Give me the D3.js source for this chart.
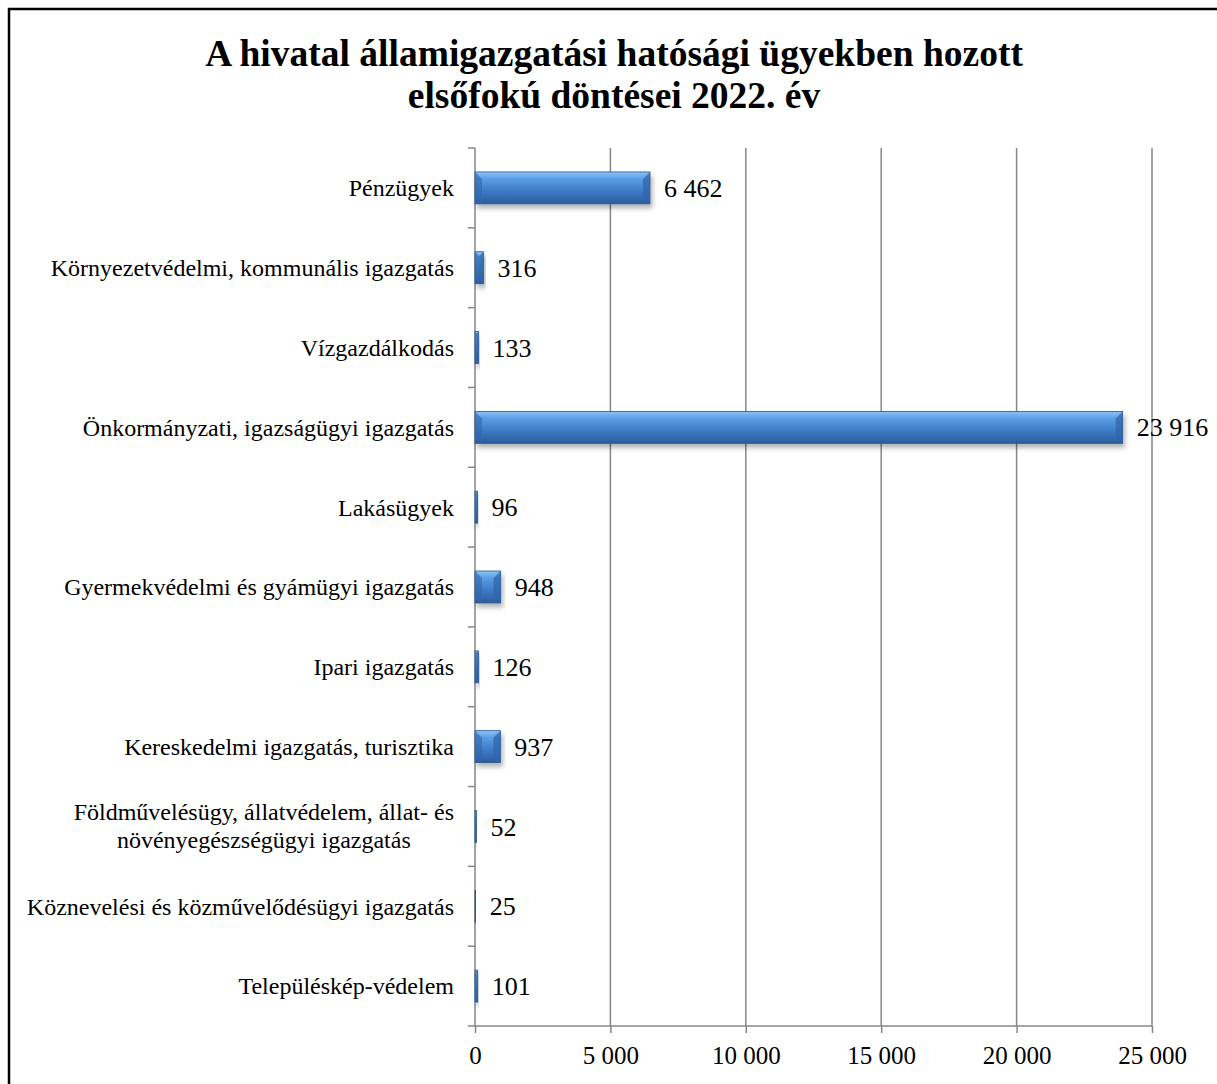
<!DOCTYPE html>
<html>
<head>
<meta charset="utf-8">
<script src="https://cdn.jsdelivr.net/npm/d3@7"></script>
<style>
  body { margin: 0; background: #fff; }
  text { font-family: "Liberation Serif", "Times New Roman", serif; fill: #000; }
</style>
</head>
<body>
<div id="chart"></div>
<script>
// data
const categories = [
  "Pénzügyek",
  "Környezetvédelmi, kommunális igazgatás",
  "Vízgazdálkodás",
  "Önkormányzati, igazságügyi igazgatás",
  "Lakásügyek",
  "Gyermekvédelmi és gyámügyi igazgatás",
  "Ipari igazgatás",
  "Kereskedelmi igazgatás, turisztika",
  "Földművelésügy, állatvédelem, állat- és|növényegészségügyi igazgatás",
  "Köznevelési és közművelődésügyi igazgatás",
  "Településkép-védelem"
];
const values = [6462, 316, 133, 23916, 96, 948, 126, 937, 52, 25, 101];
const valueLabels = ["6 462", "316", "133", "23 916", "96", "948", "126", "937", "52", "25", "101"];
const xTicks = [0, 5000, 10000, 15000, 20000, 25000];
const xTickLabels = ["0", "5 000", "10 000", "15 000", "20 000", "25 000"];
const titleLines = ["A hivatal államigazgatási hatósági ügyekben hozott", "elsőfokú döntései 2022. év"];

const W = 1217, H = 1084;
const margin = {top: 148, right: 65, bottom: 58, left: 475};
const width = W - margin.left - margin.right,
      height = H - margin.top - margin.bottom;

const svgRoot = d3.select("#chart")
  .append("svg")
    .attr("width", W)
    .attr("height", H);

// outer frame
svgRoot.append("rect")
  .attr("x", 9).attr("y", 9)
  .attr("width", W + 20).attr("height", H + 20)
  .attr("fill", "none")
  .attr("stroke", "#000")
  .attr("stroke-width", 2.5);

// title
svgRoot.selectAll(".title")
  .data(titleLines)
  .enter()
  .append("text")
    .attr("class", "title")
    .attr("x", 614)
    .attr("y", (d, i) => 66 + i * 42)
    .attr("text-anchor", "middle")
    .style("font-size", "37.5px")
    .style("font-weight", "bold")
    .text(d => d);

const defs = svgRoot.append("defs");
const grad = defs.append("linearGradient")
  .attr("id", "barGrad").attr("x1", 0).attr("y1", 0).attr("x2", 0).attr("y2", 1);
grad.append("stop").attr("offset", "0%").attr("stop-color", "#8cc4f5");
grad.append("stop").attr("offset", "22%").attr("stop-color", "#5a9de3");
grad.append("stop").attr("offset", "60%").attr("stop-color", "#3e7bc6");
grad.append("stop").attr("offset", "100%").attr("stop-color", "#2b5c9c");

const shadow = defs.append("filter").attr("id", "shadow")
  .attr("x", "-10%").attr("y", "-20%").attr("width", "130%").attr("height", "160%");
shadow.append("feDropShadow")
  .attr("dx", 2).attr("dy", 4).attr("stdDeviation", 2.5)
  .attr("flood-color", "#000").attr("flood-opacity", 0.3);

const svg = svgRoot.append("g")
  .attr("transform", `translate(${margin.left},${margin.top})`);

const x = d3.scaleLinear()
  .domain([0, 25000])
  .range([0, 677]);

const y = d3.scaleBand()
  .domain(d3.range(categories.length))
  .range([0, height])
  .paddingInner(0.6)
  .paddingOuter(0.3);

// vertical gridlines
svg.selectAll(".grid")
  .data(xTicks.slice(1))
  .enter()
  .append("line")
    .attr("x1", d => x(d)).attr("x2", d => x(d))
    .attr("y1", 0).attr("y2", height)
    .attr("stroke", "#878787")
    .attr("stroke-width", 1.5);

// x axis
const xAxis = d3.axisBottom(x)
  .tickValues(xTicks)
  .tickFormat((d, i) => xTickLabels[i])
  .tickSize(7)
  .tickPadding(13);
const gx = svg.append("g")
  .attr("transform", `translate(0, ${height})`)
  .call(xAxis);
gx.select(".domain").remove();
gx.append("line")
  .attr("x1", -7).attr("x2", x(25000))
  .attr("stroke", "#878787").attr("stroke-width", 1.5);
gx.selectAll(".tick line").attr("stroke", "#878787").attr("stroke-width", 1.5);
gx.selectAll(".tick text")
  .style("font-size", "25px")
  .style("font-family", "'Liberation Serif', serif")
  .attr("fill", "#000");

// y axis line and boundary ticks
svg.append("line")
  .attr("x1", 0).attr("x2", 0).attr("y1", 0).attr("y2", height)
  .attr("stroke", "#878787").attr("stroke-width", 1.5);
const step = height / categories.length;
svg.selectAll(".ytick")
  .data(d3.range(categories.length))
  .enter()
  .append("line")
    .attr("x1", -7).attr("x2", 0)
    .attr("y1", d => d * step).attr("y2", d => d * step)
    .attr("stroke", "#878787").attr("stroke-width", 1.5);

// category labels
const labels = svg.selectAll(".cat")
  .data(categories)
  .enter()
  .append("text")
    .attr("class", "cat")
    .attr("x", -21)
    .attr("y", (d, i) => y(i) + y.bandwidth() / 2)
    .style("font-size", "24px");
labels.each(function(d) {
  const parts = d.split("|");
  const t = d3.select(this);
  if (parts.length === 1) {
    t.attr("text-anchor", "end").attr("dy", "0.35em").text(d);
  } else {
    const first = t.append("tspan").attr("text-anchor", "end").attr("dy", "-0.25em").text(parts[0]);
    const w = first.node().getComputedTextLength();
    const cx = -21 - w / 2;
    first.attr("x", -21);
    t.append("tspan").attr("x", cx).attr("text-anchor", "middle").attr("dy", "1.15em").text(parts[1]);
  }
});

// bars
const bars = svg.selectAll(".bar")
  .data(values)
  .enter()
  .append("g")
    .attr("class", "bar")
    .attr("filter", "url(#shadow)");

bars.append("rect")
  .attr("x", 0)
  .attr("y", (d, i) => y(i))
  .attr("width", d => x(d))
  .attr("height", y.bandwidth())
  .attr("fill", "url(#barGrad)")
  .attr("stroke", "#2a5690")
  .attr("stroke-width", 0.8);

// bevel at both ends
bars.append("path")
  .attr("fill", "#2f66a8")
  .attr("opacity", 0.75)
  .attr("d", (d, i) => {
    const x1 = x(d), y0 = y(i), y1 = y(i) + y.bandwidth();
    const b = Math.min(7, x1 / 2);
    return `M${x1},${y0}L${x1 - b},${y0 + b}L${x1 - b},${y1 - b}L${x1},${y1}Z`;
  });
bars.append("path")
  .attr("fill", "#2f66a8")
  .attr("opacity", 0.6)
  .attr("d", (d, i) => {
    const x1 = x(d), y0 = y(i), y1 = y(i) + y.bandwidth();
    const b = Math.min(7, x1 / 2);
    return `M0,${y0}L${b},${y0 + b}L${b},${y1 - b}L0,${y1}Z`;
  });

// value labels
svg.selectAll(".val")
  .data(values)
  .enter()
  .append("text")
    .attr("class", "val")
    .attr("x", d => x(d) + 14)
    .attr("y", (d, i) => y(i) + y.bandwidth() / 2)
    .attr("dy", "0.35em")
    .style("font-size", "26px")
    .text((d, i) => valueLabels[i]);
</script>
</body>
</html>
